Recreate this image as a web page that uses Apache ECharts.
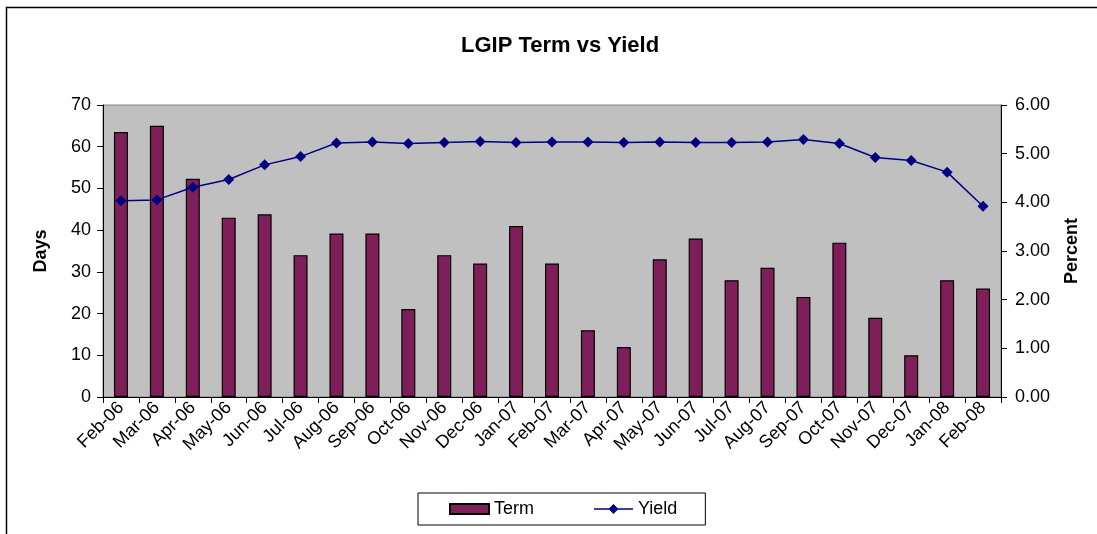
<!DOCTYPE html>
<html>
<head>
<meta charset="utf-8">
<script src="https://cdn.jsdelivr.net/npm/echarts@6/dist/echarts.min.js"></script>
<style>
  html, body { margin: 0; padding: 0; background: #fff; }
  #chart { width: 1097px; height: 534px; }
</style>
</head>
<body>
<div id="chart"></div>
<script>
// months on the category axis
const months = ['Feb-06', 'Mar-06', 'Apr-06', 'May-06', 'Jun-06', 'Jul-06', 'Aug-06', 'Sep-06',
  'Oct-06', 'Nov-06', 'Dec-06', 'Jan-07', 'Feb-07', 'Mar-07', 'Apr-07', 'May-07', 'Jun-07',
  'Jul-07', 'Aug-07', 'Sep-07', 'Oct-07', 'Nov-07', 'Dec-07', 'Jan-08', 'Feb-08']
// term in days (bars, left axis)
const termDays = [63.5, 65, 52.3, 43, 43.8, 34, 39.2, 39.2, 21.1, 34, 32, 41, 32,
  16, 12, 33, 38, 28, 31, 24, 37, 19, 10, 28, 26]
// yield in percent (line, right axis)
const yieldPct = [4.03, 4.05, 4.31, 4.47, 4.77, 4.94, 5.22, 5.24, 5.21, 5.23, 5.25, 5.23, 5.24,
  5.24, 5.23, 5.24, 5.23, 5.23, 5.24, 5.29, 5.21, 4.92, 4.86, 4.62, 3.92]

const font = 'Liberation Sans, Arial, sans-serif'
const chart = echarts.init(document.getElementById('chart'))

const option = {
  animation: false,
  textStyle: { fontFamily: font },
  // outer frame of the chart area
  graphic: [{
    type: 'rect',
    z: -10,
    shape: { x: 6.5, y: 7.5, width: 1200, height: 600 },
    style: { fill: 'none', stroke: '#000', lineWidth: 1.5 }
  }],
  title: {
    text: 'LGIP Term vs Yield',
    left: 456,
    top: 30,
    textStyle: { fontFamily: font, fontSize: 22, fontWeight: 'bold', color: '#000' }
  },
  legend: {
    left: 418,
    top: 493,
    padding: [7, 28, 7, 31],
    itemGap: 60,
    itemWidth: 39,
    itemHeight: 10,
    borderColor: '#000',
    borderWidth: 1,
    borderRadius: 0,
    textStyle: { fontFamily: font, fontSize: 18, color: '#000' },
    data: [
      { name: 'Term', icon: 'rect' },
      // line with a diamond marker, like the spreadsheet legend
      { name: 'Yield', icon: 'path://M0,4.3L39,4.3L39,5.7L0,5.7Z M19.5,0L24.5,5L19.5,10L14.5,5Z' }
    ]
  },
  grid: {
    left: 103,
    right: 96,
    top: 105,
    bottom: 137,
    show: true,
    backgroundColor: '#C0C0C0',
    borderColor: '#808080',
    borderWidth: 1
  },
  xAxis: {
    type: 'category',
    data: months,
    boundaryGap: true,
    axisLine: { lineStyle: { color: '#000', width: 1 } },
    axisTick: { show: true, length: 6, lineStyle: { color: '#000' } },
    axisLabel: { rotate: 45, margin: 8, fontSize: 18, color: '#000', interval: 0 }
  },
  yAxis: [{
    type: 'value',
    name: 'Days',
    nameLocation: 'middle',
    nameRotate: 90,
    nameGap: 53,
    nameTextStyle: { fontSize: 18, fontWeight: 'bold', color: '#000' },
    min: 0,
    max: 70,
    interval: 10,
    axisLine: { show: true, lineStyle: { color: '#000' } },
    axisTick: { show: true, length: 6, lineStyle: { color: '#000' } },
    axisLabel: { fontSize: 18, color: '#000', margin: 12 },
    splitLine: { show: false }
  }, {
    type: 'value',
    name: 'Percent',
    position: 'right',
    nameLocation: 'middle',
    nameRotate: 90,
    nameGap: 62,
    nameTextStyle: { fontSize: 18, fontWeight: 'bold', color: '#000' },
    min: 0,
    max: 6,
    interval: 1,
    axisLine: { show: true, lineStyle: { color: '#000' } },
    axisTick: { show: true, length: 6, lineStyle: { color: '#000' } },
    axisLabel: {
      fontSize: 18, color: '#000', margin: 14,
      formatter: v => v.toFixed(2)
    },
    splitLine: { show: false }
  }],
  series: [{
    name: 'Term',
    type: 'bar',
    yAxisIndex: 0,
    barWidth: 14,
    data: termDays,
    itemStyle: { color: '#7F1F5A', borderColor: '#000', borderWidth: 1.2 }
  }, {
    name: 'Yield',
    type: 'line',
    yAxisIndex: 1,
    data: yieldPct,
    symbol: 'diamond',
    symbolSize: 11,
    lineStyle: { color: '#000080', width: 1.5 },
    itemStyle: { color: '#000080' }
  }]
}

chart.setOption(option)
</script>
</body>
</html>
